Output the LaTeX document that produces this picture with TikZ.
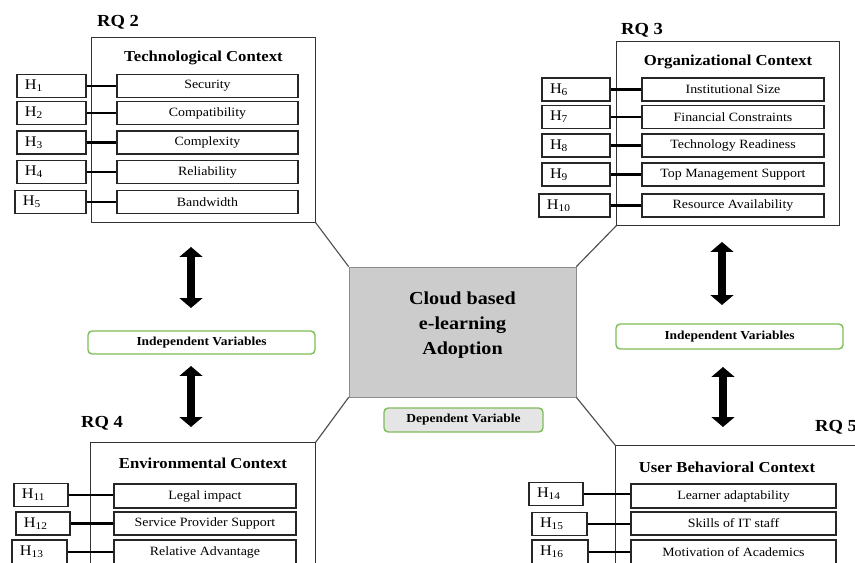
\documentclass[tikz,border=0pt]{standalone}
\usepackage{fontspec}
\setmainfont[FakeStretch=1.1]{Liberation Serif}
\usepackage{tikz}
\usetikzlibrary{arrows.meta}
\definecolor{boxgreen}{RGB}{125,190,85}
\definecolor{coregray}{RGB}{204,204,204}

\begin{document}
\begin{tikzpicture}[x = 0.025cm, y = -0.025cm,
    ctx/.style = {draw = black!80, line width = 0.7pt, inner sep = 0pt},
    ctxtitle/.style = {font = \fontsize{10.8}{12}\selectfont\bfseries},
    rq/.style = {font = \fontsize{12}{14}\selectfont\bfseries},
    item/.style = {draw = black!85, line width = 0.8pt, minimum height = 0.575cm, inner sep = 0pt, font = \fontsize{9}{10}\selectfont},
    hyp/.style = {draw = black!85, line width = 1pt, minimum height = 0.575cm, inner xsep = 0.2cm, inner ysep = 0pt, align = left, font = \fontsize{10.5}{12}\selectfont},
    link/.style = {line width = 1.7pt},
    spoke/.style = {draw = black!70, line width = 0.8pt},
    tag/.style = {draw = boxgreen, line width = 1pt, rounded corners = 3pt, minimum height = 0.575cm, inner sep = 0pt, font = \fontsize{8.7}{10}\selectfont\bfseries},
    dblarrow/.style = {{Triangle[width = 16pt,length = 7pt]}-{Triangle[width = 16pt,length = 7pt]}, line width = 6pt}]
    \useasboundingbox (0,0) rectangle (855,563);
    \clip (0,0) rectangle (855,563);

    % core construct
    \node[draw = black!45, fill = coregray, minimum width = 5.675cm, minimum height = 3.25cm](adoption) at (462.5,332) {};
    \node[align = center, font = \fontsize{13}{17.5}\selectfont\bfseries](adoptiontext) at (462.5,325) {Cloud based\\e-learning\\Adoption};
    \node[tag, fill = black!10, minimum width = 3.975cm, minimum height = 0.6cm](depvar) at (463.5,420) {Dependent Variable};

    % RQ 2
    \node[rq](rqtwo) at (118,22) {RQ 2};
    \node[ctx, minimum width = 5.575cm, minimum height = 4.6cm](tech) at (203.5,130) {};
    \node[ctxtitle](techtitle) at (203.5,58) {Technological Context};
    \node[item, minimum width = 4.525cm](security) at (207.5,86) {Security};
    \node[item, minimum width = 4.525cm](compat) at (207.5,113) {Compatibility};
    \node[item, minimum width = 4.525cm](complex) at (207.5,142.5) {Complexity};
    \node[item, minimum width = 4.525cm](reliab) at (207.5,172) {Reliability};
    \node[item, minimum width = 4.525cm](bandw) at (207.5,202) {Bandwidth};
    \node[hyp, text width = 1.325cm](hone) at (51.5,86) {\raisebox{-2pt}{H\textsubscript{1}}};
    \node[hyp, text width = 1.325cm](htwo) at (51.5,113) {\raisebox{-2pt}{H\textsubscript{2}}};
    \node[hyp, text width = 1.325cm](hthree) at (51.5,142.5) {\raisebox{-2pt}{H\textsubscript{3}}};
    \node[hyp, text width = 1.325cm](hfour) at (51.5,172) {\raisebox{-2pt}{H\textsubscript{4}}};
    \node[hyp, text width = 1.375cm](hfive) at (50.5,202) {\raisebox{-2pt}{H\textsubscript{5}}};
    \draw[link] (hone.east) -- (hone.east -| security.west);
    \draw[link] (htwo.east) -- (htwo.east -| compat.west);
    \draw[link] (hthree.east) -- (hthree.east -| complex.west);
    \draw[link] (hfour.east) -- (hfour.east -| reliab.west);
    \draw[link] (hfive.east) -- (hfive.east -| bandw.west);

    % RQ 3
    \node[rq](rqthree) at (642,30) {RQ 3};
    \node[ctx, minimum width = 5.55cm, minimum height = 4.575cm](org) at (728,133.5) {};
    \node[ctxtitle](orgtitle) at (728,62) {Organizational Context};
    \node[item, minimum width = 4.55cm](instsize) at (733,89.5) {Institutional Size};
    \node[item, minimum width = 4.55cm](fincons) at (733,117) {Financial Constraints};
    \node[item, minimum width = 4.55cm](techready) at (733,145.5) {Technology Readiness};
    \node[item, minimum width = 4.55cm](topmgmt) at (733,174.5) {Top Management Support};
    \node[item, minimum width = 4.55cm](resavail) at (733,205.5) {Resource Availability};
    \node[hyp, text width = 1.3cm](hsix) at (576,89.5) {\raisebox{-2pt}{H\textsubscript{6}}};
    \node[hyp, text width = 1.3cm](hseven) at (576,117) {\raisebox{-2pt}{H\textsubscript{7}}};
    \node[hyp, text width = 1.3cm](height) at (576,145.5) {\raisebox{-2pt}{H\textsubscript{8}}};
    \node[hyp, text width = 1.3cm](hnine) at (576,174.5) {\raisebox{-2pt}{H\textsubscript{9}}};
    \node[hyp, text width = 1.375cm](hten) at (574.5,205.5) {\raisebox{-2pt}{H\textsubscript{10}}};
    \draw[link] (hsix.east) -- (hsix.east -| instsize.west);
    \draw[link] (hseven.east) -- (hseven.east -| fincons.west);
    \draw[link] (height.east) -- (height.east -| techready.west);
    \draw[link] (hnine.east) -- (hnine.east -| topmgmt.west);
    \draw[link] (hten.east) -- (hten.east -| resavail.west);

    % RQ 4
    \node[rq](rqfour) at (102,423) {RQ 4};
    \node[ctx, minimum width = 5.6cm, minimum height = 3.925cm](env) at (203,521.5) {};
    \node[ctxtitle](envtitle) at (203,463) {Environmental Context};
    \node[item, minimum width = 4.55cm, minimum height = 0.6cm](legal) at (205,496) {Legal impact};
    \node[item, minimum width = 4.55cm](provider) at (205,523.5) {Service Provider Support};
    \node[item, minimum width = 4.55cm, minimum height = 0.6cm](reladv) at (205,552) {Relative Advantage};
    \node[hyp, text width = 0.95cm](heleven) at (41,495) {\raisebox{-2pt}{H\textsubscript{11}}};
    \node[hyp, text width = 0.95cm](htwelve) at (43,523.5) {\raisebox{-2pt}{H\textsubscript{12}}};
    \node[hyp, text width = 0.975cm, minimum height = 0.6cm](hthirteen) at (39.5,552) {\raisebox{-2pt}{H\textsubscript{13}}};
    \draw[link] (heleven.east) -- (heleven.east -| legal.west);
    \draw[link] (htwelve.east) -- (htwelve.east -| provider.west);
    \draw[link] (hthirteen.east) -- (hthirteen.east -| reladv.west);

    % RQ 5
    \node[rq](rqfive) at (836,427) {RQ 5};
    \node[ctx, minimum width = 6.6cm, minimum height = 3.85cm](user) at (748,523) {};
    \node[ctxtitle](usertitle) at (727,467) {User Behavioral Context};
    \node[item, minimum width = 5.125cm, minimum height = 0.6cm](learner) at (733.5,496) {Learner adaptability};
    \node[item, minimum width = 5.125cm](skills) at (733.5,523.5) {Skills of IT staff};
    \node[item, minimum width = 5.125cm, minimum height = 0.6cm](motiv) at (733.5,552) {Motivation of Academics};
    \node[hyp, text width = 0.95cm](hfourteen) at (556,494) {\raisebox{-2pt}{H\textsubscript{14}}};
    \node[hyp, text width = 0.975cm](hfifteen) at (559.5,524) {\raisebox{-2pt}{H\textsubscript{15}}};
    \node[hyp, text width = 1cm, minimum height = 0.6cm](hsixteen) at (560,552) {\raisebox{-2pt}{H\textsubscript{16}}};
    \draw[link] (hfourteen.east) -- (hfourteen.east -| learner.west);
    \draw[link] (hfifteen.east) -- (hfifteen.east -| skills.west);
    \draw[link] (hsixteen.east) -- (hsixteen.east -| motiv.west);

    % spokes to the core
    \draw[spoke] (tech.south east) -- (adoption.north west);
    \draw[spoke] (org.south west) -- (adoption.north east);
    \draw[spoke] (env.north east) -- (adoption.south west);
    \draw[spoke] (user.north west) -- (adoption.south east);

    % independent variables
    \node[tag, fill = white, minimum width = 5.675cm](indepleft) at (201.5,342.5) {Independent Variables};
    \node[tag, fill = white, minimum width = 5.675cm, minimum height = 0.625cm](indepright) at (729.5,336.5) {Independent Variables};
    \coordinate (alone) at (191,247);
    \coordinate (altwo) at (191,308);
    \coordinate (althree) at (191,366);
    \coordinate (alfour) at (191,427);
    \coordinate (arone) at (722,242);
    \coordinate (artwo) at (722,305);
    \coordinate (arthree) at (723,367);
    \coordinate (arfour) at (723,427);
    \draw[dblarrow] (alone) -- (altwo);
    \draw[dblarrow] (althree) -- (alfour);
    \draw[dblarrow] (arone) -- (artwo);
    \draw[dblarrow] (arthree) -- (arfour);
\end{tikzpicture}
\end{document}
